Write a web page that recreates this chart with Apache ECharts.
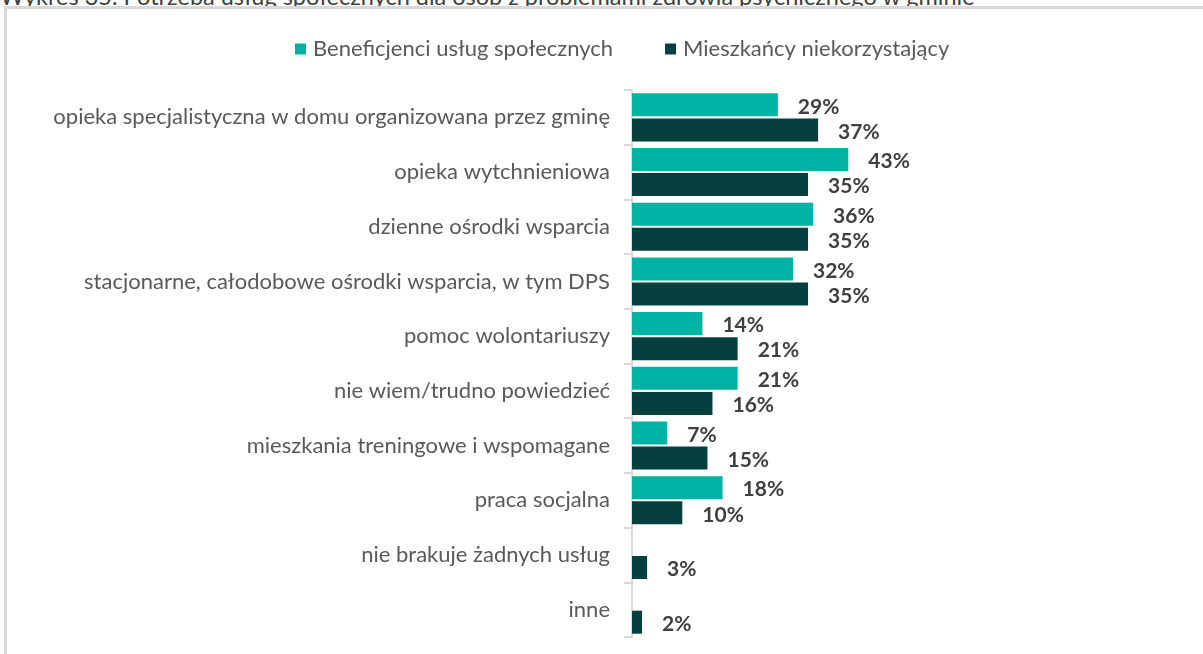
<!DOCTYPE html>
<html>
<head>
<meta charset="utf-8">
<script src="https://cdn.jsdelivr.net/npm/echarts@6/dist/echarts.min.js"></script>
<style>
  html, body { margin: 0; padding: 0; background: #fff; overflow: hidden; }
  #title { position: absolute; left: 0; top: -15px; font-family: Lato, sans-serif; font-size: 23.5px; line-height: 23px; color: #404040; white-space: nowrap; }
  #frame { position: absolute; left: 4px; top: 6px; width: 1300px; height: 800px; border: 3px solid #d9d9d9; box-sizing: border-box; }
  #chart { position: absolute; left: 0; top: 0; width: 1203px; height: 654px; }
</style>
</head>
<body>
<div id="title">Wykres 35. Potrzeba usług społecznych dla osób z problemami zdrowia psychicznego w gminie</div>
<div id="frame"></div>
<div id="chart"></div>
<script>
// Services needed for people with mental-health problems (% of answers)
const categories = [
  'opieka specjalistyczna w domu organizowana przez gminę',
  'opieka wytchnieniowa',
  'dzienne ośrodki wsparcia',
  'stacjonarne, całodobowe ośrodki wsparcia, w tym DPS',
  'pomoc wolontariuszy',
  'nie wiem/trudno powiedzieć',
  'mieszkania treningowe i wspomagane',
  'praca socjalna',
  'nie brakuje żadnych usług',
  'inne'
];
const seriesNames = ['Beneficjenci usług społecznych', 'Mieszkańcy niekorzystający'];
const beneficjenci = [29, 43, 36, 32, 14, 21, 7, 18, null, null];
const mieszkancy = [37, 35, 35, 35, 21, 16, 15, 10, 3, 2];
const colors = ['#00b2a4', '#05403e'];

const chart = echarts.init(document.getElementById('chart'));
const labelStyle = {
  show: true,
  position: 'right',
  distance: 20,
  offset: [0, 2],
  fontFamily: 'Lato, sans-serif',
  fontWeight: 'bold',
  fontSize: 21,
  color: '#404040',
  formatter: p => (p.value == null ? '' : p.value + '%')
};
chart.setOption({
  animation: false,
  textStyle: { fontFamily: 'Lato, sans-serif' },
  legend: {
    top: 33,
    left: 290,
    itemWidth: 11,
    itemHeight: 11,
    itemGap: 52,
    icon: 'rect',
    textStyle: { fontSize: 22, color: '#595959', fontFamily: 'Lato, sans-serif', padding: [0, 0, 0, 2] },
    data: seriesNames
  },
  grid: { left: 632, right: 68, top: 90, bottom: 17 },
  xAxis: { type: 'value', min: 0, max: 100, show: false },
  yAxis: {
    type: 'category',
    inverse: true,
    data: categories,
    axisLine: { show: true, lineStyle: { color: '#d9d9d9', width: 2 } },
    axisTick: { show: true, length: 8, lineStyle: { color: '#d9d9d9', width: 2 } },
    axisLabel: { margin: 22, fontSize: 22, color: '#595959', fontFamily: 'Lato, sans-serif' }
  },
  series: [
    { name: seriesNames[0], type: 'bar', data: beneficjenci, itemStyle: { color: colors[0] }, label: labelStyle, barGap: '9%', barCategoryGap: '12%' },
    { name: seriesNames[1], type: 'bar', data: mieszkancy, itemStyle: { color: colors[1] }, label: labelStyle, barGap: '9%', barCategoryGap: '12%' }
  ]
});
</script>
</body>
</html>
